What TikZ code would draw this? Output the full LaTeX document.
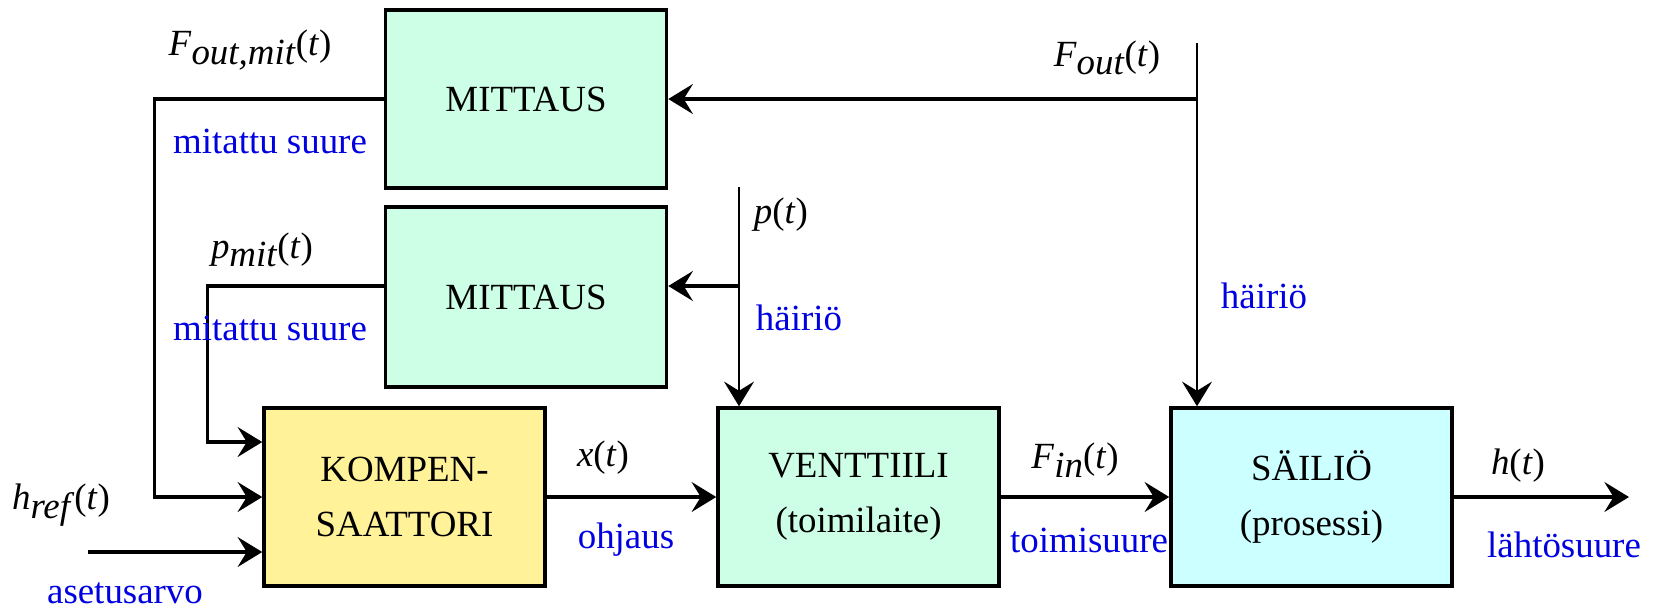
\documentclass[tikz,border=0pt]{standalone}
\usepackage{fontspec}
\setmainfont{Liberation Serif}
\usetikzlibrary{arrows.meta}
\definecolor{minttu}{RGB}{204,255,229}
\definecolor{keltainen}{RGB}{255,242,153}
\definecolor{syaani}{RGB}{204,255,255}
\definecolor{sininen}{RGB}{0,0,225}
\newcommand{\suure}[2]{\textit{#1}\raisebox{-.5ex}{\textit{#2}}(\textit{t})}
\begin{document}
\begin{tikzpicture}[x=0.1mm, y=0.1mm,
    lohko/.style={draw, line width=1pt, minimum width=28.1mm, minimum height=17.8mm, inner sep=0pt, align=center, font=\fontsize{10.5}{15.5}\selectfont},
    nuoli/.style={line width=0.9pt, -{Stealth[length=7pt, width=8.5pt, inset=2.6pt]}},
    ohut/.style={line width=0.7pt},
    merkki/.style={inner sep=0pt, font=\fontsize{10.5}{12}\selectfont},
    selite/.style={merkki, text=sininen}]
    \useasboundingbox (0,0) rectangle (1667,610);
    \node[lohko, fill=minttu] (mitF) at (526,511) {MITTAUS};
    \node[lohko, fill=minttu, minimum height=18mm] (mitp) at (526,313) {MITTAUS};
    \node[lohko, fill=keltainen] (komp) at (404.5,113) {KOMPEN-\\SAATTORI};
    \node[lohko, fill=minttu] (vent) at (858.5,113) {VENTTIILI\\(toimilaite)};
    \node[lohko, fill=syaani] (sail) at (1311.5,113) {SÄILIÖ\\(prosessi)};
    \coordinate (href) at (88,58);
    \coordinate (lahto) at (1629,113);
    \coordinate (Fout) at (1197,567);
    \coordinate (pin) at (739,423);
    \coordinate (haara) at ([yshift=1.1mm]mitp.east);
    \draw[nuoli] (mitF.west) -- ++(-229.5,0) |- (komp.west);
    \draw[nuoli] ([yshift=1.1mm]mitp.west) -- ++(-176.5,0) |- ([yshift=5.5mm]komp.west);
    \draw[nuoli] (href) -- (href -| komp.west);
    \draw[nuoli] (komp.east) -- (vent.west);
    \draw[nuoli] (vent.east) -- (sail.west);
    \draw[nuoli] (sail.east) -- (lahto);
    \draw[nuoli, ohut] (Fout) -- (Fout |- sail.north);
    \draw[nuoli] (Fout |- mitF.east) -- (mitF.east);
    \draw[nuoli, ohut] (pin) -- (pin |- vent.north);
    \draw[nuoli] (haara -| pin) -- (haara);
    \node[merkki] (lFoutmit) at (250,560) {\suure{F}{out,mit}};
    \node[selite] (lmit1) at (270,469) {mitattu suure};
    \node[merkki] (lpmit) at (262,360) {\suure{p}{mit}};
    \node[selite] (lmit2) at (270,282) {mitattu suure};
    \node[merkki] (lhref) at (61,105) {\suure{h}{ref}};
    \node[selite] (laset) at (125,17) {asetusarvo};
    \node[merkki] (lx) at (603,152) {\textit{x}(\textit{t})};
    \node[selite] (lohj) at (626,70) {ohjaus};
    \node[merkki] (lFin) at (1075,150) {\suure{F}{in}};
    \node[selite] (ltoimi) at (1089,70) {toimisuure};
    \node[merkki] (lh) at (1518,144) {\textit{h}(\textit{t})};
    \node[selite] (llahto) at (1564,65) {lähtösuure};
    \node[merkki] (lFout) at (1107,552) {\suure{F}{out}};
    \node[merkki] (lp) at (781,395) {\textit{p}(\textit{t})};
    \node[selite] (lhai1) at (799,292) {häiriö};
    \node[selite] (lhai2) at (1264,314) {häiriö};
\end{tikzpicture}
\end{document}
